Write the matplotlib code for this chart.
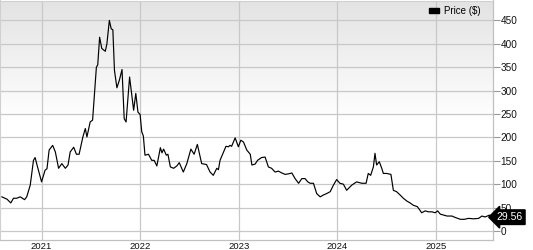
import matplotlib
matplotlib.use("Agg")
import matplotlib.pyplot as plt
import numpy as np
import pandas as pd
from matplotlib.transforms import blended_transform_factory
from matplotlib.patches import Patch

dates = [
    "2020-08-07", "2020-08-26", "2020-09-09", "2020-09-19", "2020-10-01", "2020-10-14",
    "2020-10-30", "2020-11-07", "2020-11-20", "2020-12-02", "2020-12-08", "2020-12-17",
    "2021-01-01", "2021-01-14", "2021-01-21", "2021-01-29", "2021-02-11", "2021-02-21",
    "2021-03-05", "2021-03-17", "2021-03-30", "2021-04-09", "2021-04-17", "2021-04-30",
    "2021-05-10", "2021-05-20", "2021-06-03", "2021-06-12", "2021-06-18", "2021-06-30",
    "2021-07-09", "2021-07-23", "2021-07-28", "2021-08-04", "2021-08-12", "2021-08-25",
    "2021-08-31", "2021-09-09", "2021-09-16", "2021-09-22", "2021-09-28", "2021-10-07",
    "2021-10-16", "2021-10-26", "2021-11-03", "2021-11-10", "2021-11-23", "2021-12-08",
    "2021-12-16", "2021-12-24", "2022-01-01", "2022-01-07", "2022-01-13", "2022-01-19",
    "2022-02-01", "2022-02-13", "2022-02-22", "2022-03-04", "2022-03-17", "2022-03-23",
    "2022-03-29", "2022-04-08", "2022-04-14", "2022-04-23", "2022-05-05", "2022-05-17",
    "2022-05-26", "2022-06-10", "2022-06-23", "2022-07-08", "2022-07-20", "2022-08-01",
    "2022-08-17", "2022-09-04", "2022-09-17", "2022-09-29", "2022-10-12", "2022-10-18",
    "2022-10-24", "2022-11-06", "2022-11-15", "2022-11-24", "2022-11-30", "2022-12-06",
    "2022-12-19", "2022-12-31", "2023-01-09", "2023-01-19", "2023-01-31", "2023-02-13",
    "2023-02-19", "2023-03-03", "2023-03-12", "2023-03-27", "2023-04-09", "2023-04-21",
    "2023-05-03", "2023-05-16", "2023-05-28", "2023-06-10", "2023-06-22", "2023-07-04",
    "2023-07-17", "2023-07-29", "2023-08-11", "2023-08-23", "2023-09-04", "2023-09-14",
    "2023-09-23", "2023-10-05", "2023-10-17", "2023-10-30", "2023-11-11", "2023-11-23",
    "2023-12-06", "2023-12-18", "2023-12-30", "2024-01-11", "2024-01-24", "2024-02-05",
    "2024-02-24", "2024-03-13", "2024-04-01", "2024-04-17", "2024-04-25", "2024-05-04",
    "2024-05-14", "2024-05-20", "2024-05-26", "2024-06-05", "2024-06-14", "2024-06-20",
    "2024-07-02", "2024-07-18", "2024-07-27", "2024-08-08", "2024-08-21", "2024-09-02",
    "2024-09-15", "2024-09-27", "2024-10-09", "2024-10-24", "2024-11-09", "2024-11-22",
    "2024-12-04", "2024-12-17", "2024-12-29", "2025-01-07", "2025-01-17", "2025-01-29",
    "2025-02-11", "2025-03-01", "2025-03-13", "2025-04-01", "2025-04-16", "2025-05-01",
    "2025-05-20", "2025-06-08", "2025-06-20", "2025-07-02", "2025-07-18", "2025-07-26",
]
prices = [
    73, 68, 60, 70, 70, 73,
    67, 73, 98, 151, 157, 137,
    105, 130, 133, 173, 183, 169,
    134, 144, 134, 141, 169, 179,
    164, 164, 201, 219, 201, 233,
    237, 350, 355, 414, 390, 384,
    400, 450, 432, 430, 343, 306,
    322, 345, 240, 233, 329, 258,
    294, 254, 249, 212, 203, 162,
    164, 151, 151, 139, 178, 167,
    175, 162, 164, 137, 134, 139,
    146, 126, 144, 175, 164, 185,
    144, 142, 126, 119, 134, 131,
    151, 169, 181, 180, 183, 181,
    199, 180, 194, 190, 173, 164,
    141, 143, 151, 157, 158, 137,
    134, 126, 128, 124, 121, 122,
    124, 112, 102, 112, 112, 105,
    102, 102, 80, 73, 77, 80,
    84, 98, 110, 102, 100, 87,
    98, 105, 102, 102, 123, 119,
    137, 166, 141, 148, 134, 123,
    123, 121, 87, 84, 77, 70,
    64, 60, 55, 52, 39, 43,
    41, 41, 39, 43, 36, 34,
    32, 32, 29, 25, 25, 27,
    26, 27, 32, 30, 34, 29.56,
]
y_ticks = [0, 50, 100, 150, 200, 250, 300, 350, 400, 450]
x_tick_labels = ["2021", "2022", "2023", "2024", "2025"]
series_label = "Price ($)"

x = pd.to_datetime(dates)

plt.rcParams["font.family"] = ["Liberation Sans", "DejaVu Sans"]

fig = plt.figure(figsize=(5.33, 2.5), dpi=100)
ax = fig.add_axes([0.0, 0.04, 0.9244, 0.958])

# gradient background
grad = np.linspace(0, 1, 256)
top_c = np.array([0.89, 0.89, 0.89])
bot_c = np.array([1.0, 1.0, 1.0])
t = np.clip(grad / 0.5, 0, 1)
img = top_c[None, :] * (1 - t)[:, None] + bot_c[None, :] * t[:, None]
img = img.reshape(256, 1, 3)
ax.imshow(img, extent=[0, 1, 0, 1], transform=ax.transAxes, aspect="auto",
          zorder=0, origin="upper")

ax.plot(x, prices, color="black", lw=0.85, zorder=3)

ax.set_xlim(pd.Timestamp("2020-07-31"), pd.Timestamp("2025-07-30"))
ax.set_ylim(-19.2, 492.5)

ax.set_yticks(y_ticks)
ax.yaxis.tick_right()
ax.tick_params(axis="y", length=5, width=0.8, color="#999999", pad=0.5,
               labelsize=7.2, labelcolor="#111111")
ax.set_xticks(pd.to_datetime([f"{y}-01-01" for y in x_tick_labels]))
ax.set_xticklabels(x_tick_labels)
ax.tick_params(axis="x", length=0, pad=1.5, labelsize=6.8, labelcolor="#111111")

ax.grid(True, color="#c8c8c8", lw=0.9, zorder=1)
ax.set_axisbelow(True)
for s in ["left", "top"]:
    ax.spines[s].set_color("#d0d0d0")
    ax.spines[s].set_linewidth(0.8)
for s in ["right", "bottom"]:
    ax.spines[s].set_color("#c0c0c0")
    ax.spines[s].set_linewidth(0.9)

# legend
ax.legend(handles=[Patch(facecolor="black", edgecolor="black", label=series_label)],
          loc="upper right", bbox_to_anchor=(0.99, 1.005), frameon=False,
          fontsize=7, handlelength=1.0, handleheight=0.45, handletextpad=0.6,
          borderaxespad=0.3)

# last value tag
trans = blended_transform_factory(ax.transAxes, ax.transData)
ax.annotate(f"{prices[-1]:.2f}", xy=(1.0, prices[-1]), xycoords=trans,
            xytext=(1.008, prices[-1]), textcoords=trans,
            ha="left", va="center", color="white", fontsize=7.5,
            bbox=dict(boxstyle="larrow,pad=0.22", fc="black", ec="black"),
            annotation_clip=False, zorder=5)

fig.savefig("out.png", dpi=100)
